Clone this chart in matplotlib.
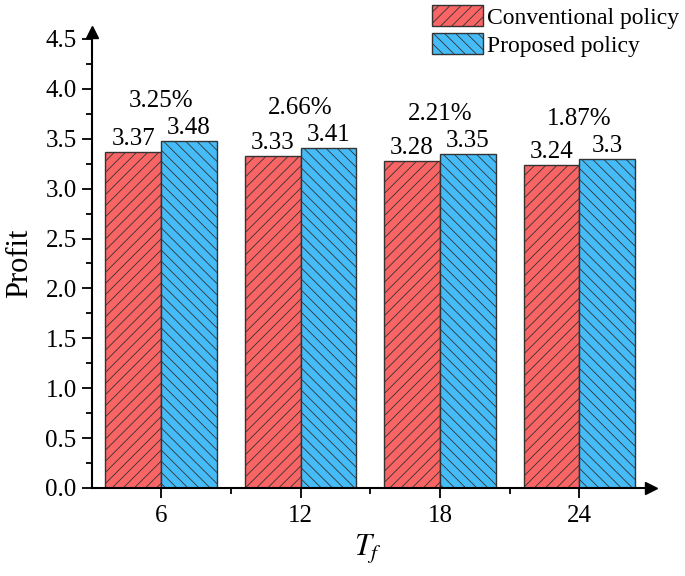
import numpy as np
import matplotlib.pyplot as plt
from matplotlib.ticker import MultipleLocator
from matplotlib.transforms import offset_copy

plt.rcParams['font.family'] = ['Liberation Serif', 'DejaVu Serif']
plt.rcParams['mathtext.fontset'] = 'stix'
plt.rcParams['hatch.linewidth'] = 0.6
plt.rcParams['hatch.color'] = '#222222'

# Data
tf_labels = ['6', '12', '18', '24']
conventional = [3.37, 3.33, 3.28, 3.24]
proposed = [3.48, 3.41, 3.35, 3.3]
improvement = ['3.25%', '2.66%', '2.21%', '1.87%']

x = np.arange(len(tf_labels))
w = 0.4

fig = plt.figure(figsize=(6.85, 5.76), dpi=100)
ax = fig.add_axes([92 / 685, 88 / 576, 553 / 685, 450 / 576])

b1 = ax.bar(x - w / 2, conventional, w, color='#F96464', edgecolor='#333333',
            linewidth=1.0, hatch='///', label='Conventional policy')
b2 = ax.bar(x + w / 2, proposed, w, color='#45BBF7', edgecolor='#333333',
            linewidth=1.0, hatch='\\\\\\', label='Proposed policy')

# value labels
for xi, v in zip(x, conventional):
    ax.text(xi - w / 2, v + 0.015, f'{v:g}', ha='center', va='bottom', fontsize=18)
for xi, v in zip(x, proposed):
    ax.text(xi + w / 2, v + 0.015, f'{v:g}', ha='center', va='bottom', fontsize=18)
for xi, a, b, s in zip(x, conventional, proposed, improvement):
    ax.text(xi, max(a, b) + 0.4, s, ha='center', va='center', fontsize=18)

ax.set_xlim(-0.495, 3.47)
ax.set_ylim(0, 4.51)
ax.set_xticks(x)
ax.set_xticklabels(tf_labels)
ax.xaxis.set_minor_locator(MultipleLocator(0.5))
ax.yaxis.set_major_locator(MultipleLocator(0.5))
ax.yaxis.set_minor_locator(MultipleLocator(0.25))
ax.yaxis.set_major_formatter(plt.FormatStrFormatter('%.1f'))
ax.tick_params(axis='both', which='major', direction='out', length=7, width=1.3,
               labelsize=18, pad=4)
ax.tick_params(axis='both', which='minor', direction='out', length=4, width=1.3)
ax.tick_params(axis='x', which='major', pad=5)

for s in ['top', 'right']:
    ax.spines[s].set_visible(False)
for s in ['left', 'bottom']:
    ax.spines[s].set_linewidth(1.5)

# arrow heads at axis ends
ax.plot(1, 0, '>k', markersize=9,
        transform=offset_copy(ax.transAxes, fig=fig, x=4, y=0, units='points'),
        clip_on=False)
ax.plot(0, 1, '^k', markersize=9,
        transform=offset_copy(ax.transAxes, fig=fig, x=0, y=4, units='points'),
        clip_on=False)

ax.set_ylabel('Profit', fontsize=22, labelpad=8)
ax.set_xlabel('$T_f$', fontsize=22, labelpad=4)

fig.legend(handles=[b1, b2], loc='upper left', bbox_to_anchor=(432 / 685, 1 - 5 / 576),
           frameon=False, fontsize=17, handlelength=2.15, handleheight=1.0,
           handletextpad=0.2, labelspacing=0.18, borderpad=0, borderaxespad=0)

fig.savefig('out.png', dpi=100)
